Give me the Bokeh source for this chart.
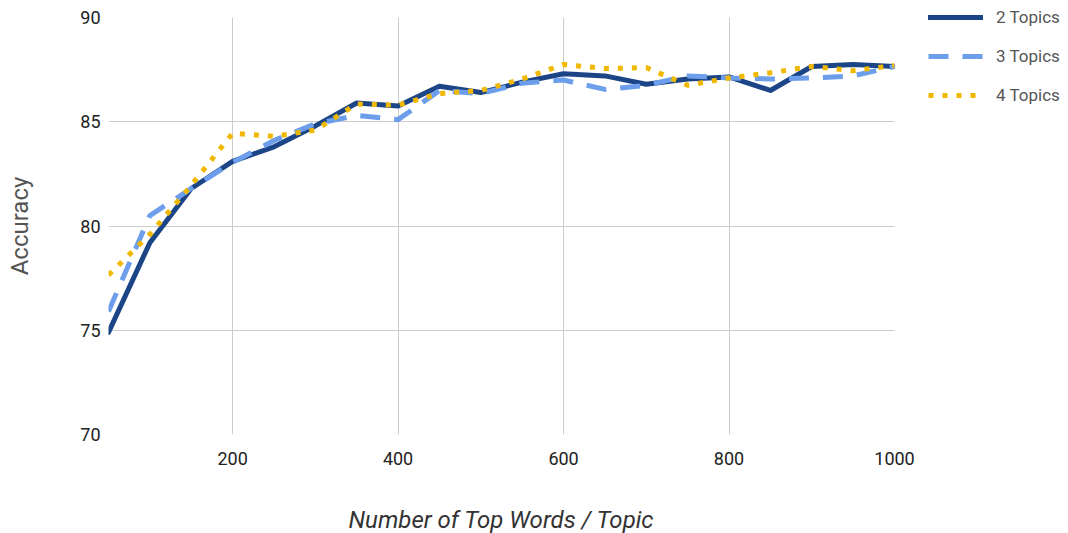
from bokeh.plotting import figure
from bokeh.models import Legend, LegendItem, FixedTicker
from bokeh.embed import file_html
from bokeh.resources import INLINE

words = [50, 100, 150, 200, 250, 300, 350, 400, 450, 500, 550, 600, 650, 700, 750, 800, 850, 900, 950, 1000]
acc_2_topics = [74.9, 79.2, 81.8, 83.1, 83.8, 84.8, 85.9, 85.75, 86.7, 86.4, 86.9, 87.3, 87.2, 86.8, 87.05, 87.15, 86.5, 87.65, 87.75, 87.65]
acc_3_topics = [75.9, 80.5, 81.8, 83.05, 84.1, 84.9, 85.3, 85.1, 86.5, 86.35, 86.85, 87.0, 86.55, 86.75, 87.2, 87.1, 87.05, 87.1, 87.2, 87.65]
acc_4_topics = [77.65, 79.6, 81.95, 84.45, 84.3, 84.6, 85.85, 85.8, 86.35, 86.5, 87.05, 87.75, 87.55, 87.6, 86.75, 87.1, 87.35, 87.65, 87.45, 87.7]
series_names = ["2 Topics", "3 Topics", "4 Topics"]
x_ticks = [200, 400, 600, 800, 1000]
y_ticks = [70, 75, 80, 85, 90]

FONT = "Roboto"

p = figure(frame_width=786, frame_height=417, x_range=(50, 1000), y_range=(70, 90),
           output_backend="svg", toolbar_location=None,
           min_border_left=108, min_border_top=17, min_border_bottom=80, min_border_right=0)
p.outline_line_color = None
p.background_fill_color = "white"

for ax in (p.xaxis[0], p.yaxis[0]):
    ax.axis_line_color = None
    ax.major_tick_line_color = None
    ax.minor_tick_line_color = None
    ax.major_tick_out = 0
    ax.major_tick_in = 0
    ax.major_label_text_font = FONT
    ax.major_label_text_font_size = "18px"
    ax.major_label_text_color = "#222222"
    ax.axis_label_text_font = FONT

p.xaxis.ticker = FixedTicker(ticks=x_ticks)
p.yaxis.ticker = FixedTicker(ticks=y_ticks)
p.xaxis.major_label_standoff = 17
p.yaxis.major_label_standoff = 8

p.xaxis.axis_label = "Number of Top Words / Topic"
p.xaxis.axis_label_text_font_style = "italic"
p.xaxis.axis_label_text_font_size = "24px"
p.xaxis.axis_label_text_color = "#333333"
p.xaxis.axis_label_standoff = 38

p.yaxis.axis_label = "Accuracy"
p.yaxis.axis_label_text_font_style = "normal"
p.yaxis.axis_label_text_font_size = "24px"
p.yaxis.axis_label_text_color = "#555555"
p.yaxis.axis_label_standoff = 43

p.xgrid.ticker = FixedTicker(ticks=x_ticks)
p.ygrid.ticker = FixedTicker(ticks=y_ticks)
p.xgrid.grid_line_color = "#cccccc"
p.ygrid.grid_line_color = "#cccccc"

r2 = p.line(words, acc_2_topics, line_color="#1c4587", line_width=5, line_join="round", line_cap="round")
r3 = p.line(words, acc_3_topics, line_color="#6d9eeb", line_width=5, line_dash="20 14", line_join="round")
r4 = p.line(words, acc_4_topics, line_color="#f1b800", line_width=5, line_dash="5 9", line_join="round")

legend = Legend(items=[LegendItem(label=series_names[0], renderers=[r2]),
                       LegendItem(label=series_names[1], renderers=[r3]),
                       LegendItem(label=series_names[2], renderers=[r4])],
                location=(34, 329), padding=0, margin=0, spacing=19,
                glyph_width=55, glyph_height=20, label_height=20, label_standoff=13,
                label_text_font=FONT, label_text_font_size="17px", label_text_color="#555555",
                border_line_color=None, background_fill_alpha=0)
p.add_layout(legend, "right")

open("out.html", "w").write(file_html(p, INLINE))
